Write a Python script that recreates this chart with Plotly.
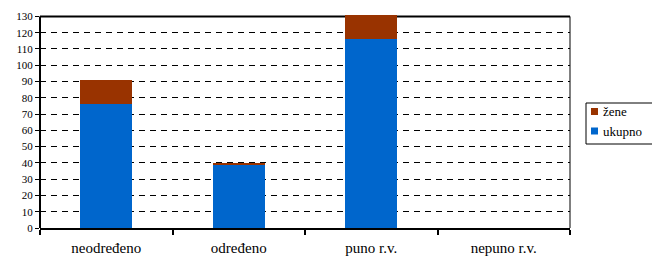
import plotly.graph_objects as go

categories = ["neodređeno", "određeno", "puno r.v.", "nepuno r.v."]
ukupno = [76, 39, 116, 0]
zene = [15, 1, 15, 0]
y_ticks = list(range(0, 131, 10))
legend_names = ["žene", "ukupno"]

BLUE = "#0066CC"
BROWN = "#993300"
FONT = "Liberation Serif, Times New Roman, DejaVu Serif, serif"

W, H = 652, 258
ML, MR, MT, MB = 40, 82, 14, 30
PW, PH = W - ML - MR, H - MT - MB


def px_x(px):
    return (px - ML) / PW


def px_y(py):
    return (H - MB - py) / PH


fig = go.Figure()
fig.add_trace(go.Bar(x=categories, y=ukupno, name="ukupno", marker_color=BLUE,
                     marker_line_width=0, showlegend=False, hoverinfo="skip"))
fig.add_trace(go.Bar(x=categories, y=zene, name="žene", marker_color=BROWN,
                     marker_line_width=0, showlegend=False, hoverinfo="skip"))

shapes = [
    dict(type="line", xref="paper", yref="y", x0=0, x1=0, y0=0, y1=130,
         line=dict(color="black", width=2), layer="above"),
    dict(type="line", xref="paper", yref="y", x0=0, x1=1, y0=130, y1=130,
         line=dict(color="black", width=2), layer="below"),
    dict(type="line", xref="paper", yref="y", x0=1, x1=1, y0=0, y1=130,
         line=dict(color="black", width=1), layer="above"),
    # legend box
    dict(type="rect", xref="paper", yref="paper",
         x0=px_x(586), x1=px_x(660), y0=px_y(144), y1=px_y(103),
         line=dict(color="black", width=1), fillcolor="white", layer="above"),
]
annotations = []
for name, color, cy in zip(legend_names, [BROWN, BLUE], [111.5, 131]):
    shapes.append(dict(type="rect", xref="paper", yref="paper",
                       x0=px_x(591), x1=px_x(598), y0=px_y(cy + 3.5), y1=px_y(cy - 3.5),
                       line=dict(width=0), fillcolor=color, layer="above"))
    annotations.append(dict(text=name, xref="paper", yref="paper",
                            x=px_x(601), y=px_y(cy), xanchor="left", yanchor="middle",
                            showarrow=False, font=dict(size=13, family=FONT)))

fig.update_layout(
    width=W, height=H,
    margin=dict(l=ML, r=MR, t=MT, b=MB, autoexpand=False),
    paper_bgcolor="white", plot_bgcolor="white",
    barmode="stack", bargap=0.61, showlegend=False,
    font=dict(family=FONT, color="black", size=11),
    xaxis=dict(showline=True, linecolor="black", linewidth=2,
               ticks="outside", tickson="boundaries", ticklen=5,
               tickwidth=2, tickcolor="black", showgrid=False,
               automargin=False, ticklabelstandoff=5,
               tickfont=dict(size=15, family=FONT)),
    yaxis=dict(range=[0, 131.5], tickvals=y_ticks, ticks="outside",
               ticklen=4, tickwidth=1, tickcolor="black",
               showgrid=True, gridcolor="black", gridwidth=1,
               griddash="6px,5px", zeroline=False, showline=False,
               automargin=False,
               tickfont=dict(size=11, family=FONT)),
    shapes=shapes,
    annotations=annotations,
)

fig.write_html("out.html", config={"responsive": False, "displayModeBar": False},
               post_script="document.body.style.margin='0';document.body.style.padding='0';")
